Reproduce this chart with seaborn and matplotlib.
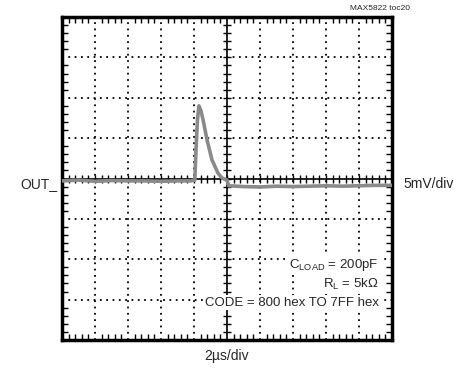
import matplotlib
matplotlib.use("Agg")
import matplotlib.pyplot as plt
import seaborn as sns
import numpy as np
import pandas as pd

# trace: time (us), output (mV)
t_us = [0.0, 1.0, 2.0, 3.0, 4.0, 5.0, 6.0, 7.0, 7.8, 8.05,
        8.12, 8.21, 8.30, 8.42, 8.55, 8.79, 9.09, 9.45, 9.70, 9.9,
        10.0, 10.1, 11.0, 12.0, 13.0, 14.0, 15.0, 16.0, 17.0, 18.0, 19.0, 20.0]
out_mv = [-0.3, -0.2, -0.35, -0.25, -0.3, -0.3, -0.35, -0.3, -0.3, -0.2,
          3.5, 7.3, 9.0, 8.4, 7.26, 4.78, 2.3, 0.68, 0.06, -0.1,
          -0.2, -0.9, -1.0, -1.05, -0.95, -1.0, -0.95, -0.9, -0.95, -0.9, -0.85, -0.85]

df = pd.DataFrame({"t": t_us, "v": out_mv})

sns.set_style("white")
plt.rcParams["font.family"] = ["Liberation Sans", "DejaVu Sans"]
plt.rcParams["mathtext.default"] = "regular"

fig = plt.figure(figsize=(4.6, 3.81), dpi=100)
ax = fig.add_axes([62 / 460, 1 - 340 / 381, 330 / 460, 323 / 381])

ax.set_xlim(0, 20)
ax.set_ylim(-20, 20)

# dotted graticule
for x in np.arange(2, 20, 2):
    if x != 10:
        ax.axvline(x, color="black", linestyle=(0, (1, 2.5)), lw=1.3, zorder=1)
for y in np.arange(-15, 20, 5):
    if y != 0:
        ax.axhline(y, color="black", linestyle=(0, (1, 2.5)), lw=1.3, zorder=1)

# center cross with minor marks
ax.axhline(0, color="black", lw=1.2, zorder=2)
ax.axvline(10, color="black", lw=1.2, zorder=2)
mx = np.arange(0.4, 20, 0.4)
my = np.arange(-19, 20, 1)
ax.plot(mx, np.zeros_like(mx), ls="none", marker="|", ms=6, mew=1.0, color="black", zorder=2)
ax.plot(np.full_like(my, 10.0, dtype=float), my, ls="none", marker="_", ms=6, mew=1.0, color="black", zorder=2)

sns.lineplot(data=df, x="t", y="v", ax=ax, color="#8a8a8a", lw=2.6, zorder=3)

ax.set_xticks(np.arange(0, 21, 2))
ax.set_yticks(np.arange(-20, 21, 5))
ax.set_xticks(mx, minor=True)
ax.set_yticks(my, minor=True)
ax.tick_params(which="both", direction="in", top=True, right=True, bottom=True, left=True,
               labelbottom=False, labelleft=False, color="black")
ax.tick_params(which="major", length=0)
ax.tick_params(which="minor", length=4, width=1.0)
ax.set_xlabel("")
ax.set_ylabel("")
for s in ax.spines.values():
    s.set_linewidth(2.5)
    s.set_color("black")
    s.set_visible(True)

box = dict(facecolor="white", edgecolor="none", pad=1.0)
ax.text(19.2, -10.7, "C$_{LOAD}$ = 200pF", ha="right", va="center", fontsize=9.5, bbox=box, zorder=4)
ax.text(19.2, -13.1, "R$_L$ = 5kΩ", ha="right", va="center", fontsize=9.5, bbox=box, zorder=4)
ax.text(19.2, -15.4, "CODE = 800 hex TO 7FF hex", ha="right", va="center", fontsize=9.5, bbox=box, zorder=4)

fig.text(20 / 460, 1 - 184 / 381, "OUT_", ha="left", va="center", fontsize=10)
fig.text(403 / 460, 1 - 184 / 381, "5mV/div", ha="left", va="center", fontsize=10)
fig.text(227 / 460, 1 - 356 / 381, "2µs/div", ha="center", va="center", fontsize=10)
fig.text(410 / 460, 1 - 9 / 381, "MAX5822 toc20", ha="right", va="center", fontsize=6)

fig.savefig("out.png", dpi=100)
